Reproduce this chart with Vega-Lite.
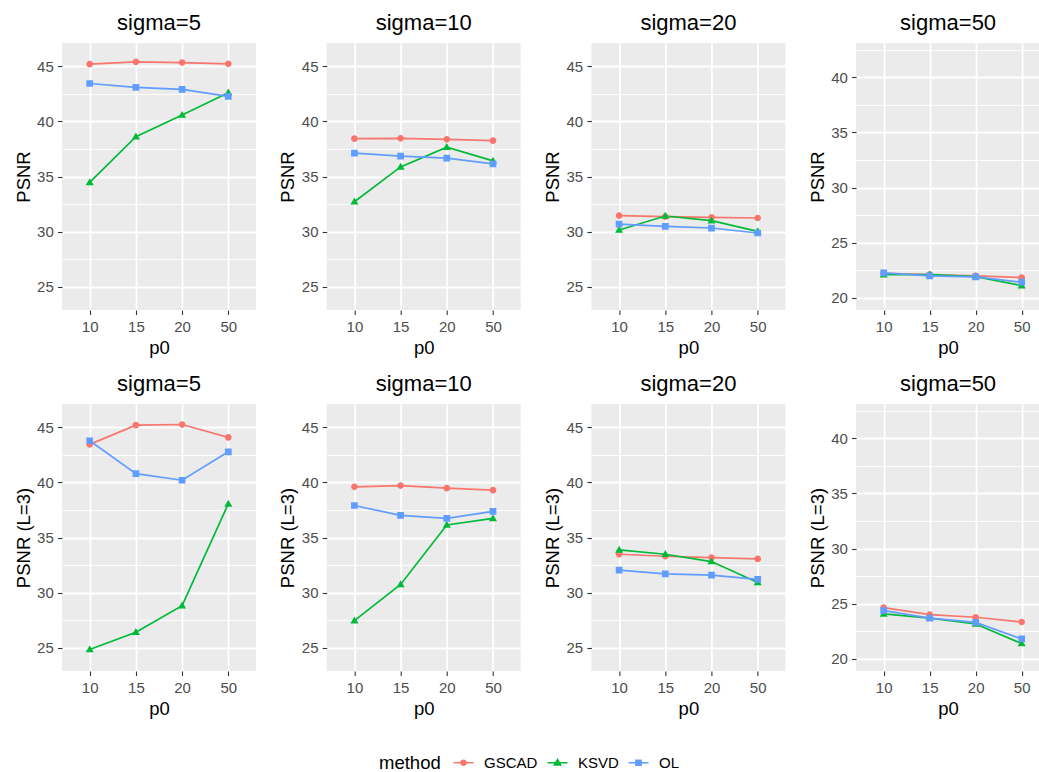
{
  "$schema": "https://vega.github.io/schema/vega-lite/v6.json",
  "background": "white",
  "padding": {"left": 14, "top": 12, "right": 0, "bottom": 0},
  "bounds": "flush",
  "columns": 4,
  "spacing": {"row": 94, "column": 70.7},
  "config": {
    "font": "Liberation Sans",
    "view": {"stroke": null, "fill": "#EBEBEB"},
    "title": {"fontSize": 22, "fontWeight": "normal", "color": "#000000", "offset": 8, "anchor": "middle"},
    "axis": {
      "domain": false,
      "grid": true,
      "gridColor": "#FFFFFF",
      "gridWidth": 1.8,
      "tickColor": "#333333",
      "tickSize": 4.5,
      "tickWidth": 1.1,
      "labelColor": "#4D4D4D",
      "labelFontSize": 15,
      "titleFontSize": 18.5,
      "titleFontWeight": "normal",
      "titleColor": "#000000"
    },
    "axisX": {"labelPadding": 5, "titlePadding": 3.5, "labelAngle": 0},
    "axisY": {"labelPadding": 4.2, "titlePadding": 3.4},
    "legend": {
      "titleFontSize": 18.5,
      "titleFontWeight": "normal",
      "titleColor": "#000000",
      "labelFontSize": 15,
      "labelColor": "#000000"
    }
  },
  "data": {
    "values": [
      {"metric":"PSNR","sigma":5,"method":"GSCAD","p0":"10","psnr":45.18},
      {"metric":"PSNR","sigma":5,"method":"GSCAD","p0":"15","psnr":45.39},
      {"metric":"PSNR","sigma":5,"method":"GSCAD","p0":"20","psnr":45.33},
      {"metric":"PSNR","sigma":5,"method":"GSCAD","p0":"50","psnr":45.21},
      {"metric":"PSNR","sigma":5,"method":"KSVD","p0":"10","psnr":34.46},
      {"metric":"PSNR","sigma":5,"method":"KSVD","p0":"15","psnr":38.61},
      {"metric":"PSNR","sigma":5,"method":"KSVD","p0":"20","psnr":40.57},
      {"metric":"PSNR","sigma":5,"method":"KSVD","p0":"50","psnr":42.59},
      {"metric":"PSNR","sigma":5,"method":"OL","p0":"10","psnr":43.43},
      {"metric":"PSNR","sigma":5,"method":"OL","p0":"15","psnr":43.07},
      {"metric":"PSNR","sigma":5,"method":"OL","p0":"20","psnr":42.89},
      {"metric":"PSNR","sigma":5,"method":"OL","p0":"50","psnr":42.26},
      {"metric":"PSNR","sigma":10,"method":"GSCAD","p0":"10","psnr":38.43},
      {"metric":"PSNR","sigma":10,"method":"GSCAD","p0":"15","psnr":38.46},
      {"metric":"PSNR","sigma":10,"method":"GSCAD","p0":"20","psnr":38.37},
      {"metric":"PSNR","sigma":10,"method":"GSCAD","p0":"50","psnr":38.25},
      {"metric":"PSNR","sigma":10,"method":"KSVD","p0":"10","psnr":32.71},
      {"metric":"PSNR","sigma":10,"method":"KSVD","p0":"15","psnr":35.87},
      {"metric":"PSNR","sigma":10,"method":"KSVD","p0":"20","psnr":37.65},
      {"metric":"PSNR","sigma":10,"method":"KSVD","p0":"50","psnr":36.42},
      {"metric":"PSNR","sigma":10,"method":"OL","p0":"10","psnr":37.11},
      {"metric":"PSNR","sigma":10,"method":"OL","p0":"15","psnr":36.84},
      {"metric":"PSNR","sigma":10,"method":"OL","p0":"20","psnr":36.66},
      {"metric":"PSNR","sigma":10,"method":"OL","p0":"50","psnr":36.14},
      {"metric":"PSNR","sigma":20,"method":"GSCAD","p0":"10","psnr":31.45},
      {"metric":"PSNR","sigma":20,"method":"GSCAD","p0":"15","psnr":31.36},
      {"metric":"PSNR","sigma":20,"method":"GSCAD","p0":"20","psnr":31.30},
      {"metric":"PSNR","sigma":20,"method":"GSCAD","p0":"50","psnr":31.24},
      {"metric":"PSNR","sigma":20,"method":"KSVD","p0":"10","psnr":30.15},
      {"metric":"PSNR","sigma":20,"method":"KSVD","p0":"15","psnr":31.42},
      {"metric":"PSNR","sigma":20,"method":"KSVD","p0":"20","psnr":31.00},
      {"metric":"PSNR","sigma":20,"method":"KSVD","p0":"50","psnr":30.03},
      {"metric":"PSNR","sigma":20,"method":"OL","p0":"10","psnr":30.69},
      {"metric":"PSNR","sigma":20,"method":"OL","p0":"15","psnr":30.48},
      {"metric":"PSNR","sigma":20,"method":"OL","p0":"20","psnr":30.33},
      {"metric":"PSNR","sigma":20,"method":"OL","p0":"50","psnr":29.88},
      {"metric":"PSNR","sigma":50,"method":"GSCAD","p0":"10","psnr":22.23},
      {"metric":"PSNR","sigma":50,"method":"GSCAD","p0":"15","psnr":22.11},
      {"metric":"PSNR","sigma":50,"method":"GSCAD","p0":"20","psnr":21.99},
      {"metric":"PSNR","sigma":50,"method":"GSCAD","p0":"50","psnr":21.84},
      {"metric":"PSNR","sigma":50,"method":"KSVD","p0":"10","psnr":22.11},
      {"metric":"PSNR","sigma":50,"method":"KSVD","p0":"15","psnr":22.11},
      {"metric":"PSNR","sigma":50,"method":"KSVD","p0":"20","psnr":21.93},
      {"metric":"PSNR","sigma":50,"method":"KSVD","p0":"50","psnr":21.11},
      {"metric":"PSNR","sigma":50,"method":"OL","p0":"10","psnr":22.26},
      {"metric":"PSNR","sigma":50,"method":"OL","p0":"15","psnr":21.99},
      {"metric":"PSNR","sigma":50,"method":"OL","p0":"20","psnr":21.90},
      {"metric":"PSNR","sigma":50,"method":"OL","p0":"50","psnr":21.42},
      {"metric":"PSNR (L=3)","sigma":5,"method":"GSCAD","p0":"10","psnr":43.44},
      {"metric":"PSNR (L=3)","sigma":5,"method":"GSCAD","p0":"15","psnr":45.18},
      {"metric":"PSNR (L=3)","sigma":5,"method":"GSCAD","p0":"20","psnr":45.24},
      {"metric":"PSNR (L=3)","sigma":5,"method":"GSCAD","p0":"50","psnr":44.07},
      {"metric":"PSNR (L=3)","sigma":5,"method":"KSVD","p0":"10","psnr":24.85},
      {"metric":"PSNR (L=3)","sigma":5,"method":"KSVD","p0":"15","psnr":26.41},
      {"metric":"PSNR (L=3)","sigma":5,"method":"KSVD","p0":"20","psnr":28.82},
      {"metric":"PSNR (L=3)","sigma":5,"method":"KSVD","p0":"50","psnr":38.05},
      {"metric":"PSNR (L=3)","sigma":5,"method":"OL","p0":"10","psnr":43.77},
      {"metric":"PSNR (L=3)","sigma":5,"method":"OL","p0":"15","psnr":40.79},
      {"metric":"PSNR (L=3)","sigma":5,"method":"OL","p0":"20","psnr":40.19},
      {"metric":"PSNR (L=3)","sigma":5,"method":"OL","p0":"50","psnr":42.77},
      {"metric":"PSNR (L=3)","sigma":10,"method":"GSCAD","p0":"10","psnr":39.59},
      {"metric":"PSNR (L=3)","sigma":10,"method":"GSCAD","p0":"15","psnr":39.71},
      {"metric":"PSNR (L=3)","sigma":10,"method":"GSCAD","p0":"20","psnr":39.47},
      {"metric":"PSNR (L=3)","sigma":10,"method":"GSCAD","p0":"50","psnr":39.29},
      {"metric":"PSNR (L=3)","sigma":10,"method":"KSVD","p0":"10","psnr":27.47},
      {"metric":"PSNR (L=3)","sigma":10,"method":"KSVD","p0":"15","psnr":30.74},
      {"metric":"PSNR (L=3)","sigma":10,"method":"KSVD","p0":"20","psnr":36.13},
      {"metric":"PSNR (L=3)","sigma":10,"method":"KSVD","p0":"50","psnr":36.73},
      {"metric":"PSNR (L=3)","sigma":10,"method":"OL","p0":"10","psnr":37.90},
      {"metric":"PSNR (L=3)","sigma":10,"method":"OL","p0":"15","psnr":37.00},
      {"metric":"PSNR (L=3)","sigma":10,"method":"OL","p0":"20","psnr":36.73},
      {"metric":"PSNR (L=3)","sigma":10,"method":"OL","p0":"50","psnr":37.36},
      {"metric":"PSNR (L=3)","sigma":20,"method":"GSCAD","p0":"10","psnr":33.48},
      {"metric":"PSNR (L=3)","sigma":20,"method":"GSCAD","p0":"15","psnr":33.30},
      {"metric":"PSNR (L=3)","sigma":20,"method":"GSCAD","p0":"20","psnr":33.18},
      {"metric":"PSNR (L=3)","sigma":20,"method":"GSCAD","p0":"50","psnr":33.06},
      {"metric":"PSNR (L=3)","sigma":20,"method":"KSVD","p0":"10","psnr":33.87},
      {"metric":"PSNR (L=3)","sigma":20,"method":"KSVD","p0":"15","psnr":33.48},
      {"metric":"PSNR (L=3)","sigma":20,"method":"KSVD","p0":"20","psnr":32.82},
      {"metric":"PSNR (L=3)","sigma":20,"method":"KSVD","p0":"50","psnr":30.92},
      {"metric":"PSNR (L=3)","sigma":20,"method":"OL","p0":"10","psnr":32.04},
      {"metric":"PSNR (L=3)","sigma":20,"method":"OL","p0":"15","psnr":31.71},
      {"metric":"PSNR (L=3)","sigma":20,"method":"OL","p0":"20","psnr":31.59},
      {"metric":"PSNR (L=3)","sigma":20,"method":"OL","p0":"50","psnr":31.20},
      {"metric":"PSNR (L=3)","sigma":50,"method":"GSCAD","p0":"10","psnr":24.64},
      {"metric":"PSNR (L=3)","sigma":50,"method":"GSCAD","p0":"15","psnr":24.01},
      {"metric":"PSNR (L=3)","sigma":50,"method":"GSCAD","p0":"20","psnr":23.77},
      {"metric":"PSNR (L=3)","sigma":50,"method":"GSCAD","p0":"50","psnr":23.34},
      {"metric":"PSNR (L=3)","sigma":50,"method":"KSVD","p0":"10","psnr":24.07},
      {"metric":"PSNR (L=3)","sigma":50,"method":"KSVD","p0":"15","psnr":23.70},
      {"metric":"PSNR (L=3)","sigma":50,"method":"KSVD","p0":"20","psnr":23.16},
      {"metric":"PSNR (L=3)","sigma":50,"method":"KSVD","p0":"50","psnr":21.39},
      {"metric":"PSNR (L=3)","sigma":50,"method":"OL","p0":"10","psnr":24.37},
      {"metric":"PSNR (L=3)","sigma":50,"method":"OL","p0":"15","psnr":23.70},
      {"metric":"PSNR (L=3)","sigma":50,"method":"OL","p0":"20","psnr":23.31},
      {"metric":"PSNR (L=3)","sigma":50,"method":"OL","p0":"50","psnr":21.81}
    ]
  },
  "concat": [
    {
      "title": "sigma=5", "width": 194, "height": 267,
      "transform": [{"filter": "datum.metric === 'PSNR' && datum.sigma === 5"}],
      "encoding": {
        "x": {"field": "p0", "type": "ordinal", "sort": ["10","15","20","50"], "scale": {"type": "point", "padding": 0.6}, "axis": {"title": "p0", "grid": true}},
        "y": {"field": "psnr", "type": "quantitative", "scale": {"domain": [22.9, 47.1], "nice": false, "zero": false},
              "axis": {"title": "PSNR", "values": [25,27.5,30,32.5,35,37.5,40,42.5,45], "labelExpr": "datum.value % 5 === 0 ? format(datum.value, 'd') : ''",
                       "tickOpacity": {"condition": {"test": "datum.value % 5 !== 0", "value": 0}, "value": 1},
                       "gridWidth": {"condition": {"test": "datum.value % 5 !== 0", "value": 0.9}, "value": 1.8}}},
        "color": {"field": "method", "type": "nominal", "scale": {"domain": ["GSCAD","KSVD","OL"], "range": ["#F8766D","#00BA38","#619CFF"]},
                  "legend": {"title": "method", "orient": "none", "legendX": 317, "legendY": 712, "direction": "horizontal", "titleOrient": "left", "titlePadding": 15, "labelOffset": 13, "columnPadding": 6, "symbolStrokeWidth": 1.7}}
      },
      "layer": [
        {"mark": {"type": "line", "strokeWidth": 1.7}},
        {"mark": {"type": "point", "filled": true, "size": 180, "opacity": 1},
         "encoding": {
           "shape": {"field": "method", "type": "nominal", "scale": {"domain": ["GSCAD","KSVD","OL"], "range": ["M-2,0L2,0M-0.5,0A0.5,0.5,0,1,1,0.5,0A0.5,0.5,0,1,1,-0.5,0Z", "M-2,0L2,0M0,-0.62L0.6,0.42L-0.6,0.42Z", "M-2,0L2,0M-0.5,-0.5L0.5,-0.5L0.5,0.5L-0.5,0.5Z"]},
                     "legend": {"title": "method", "orient": "none", "legendX": 317, "legendY": 712, "direction": "horizontal", "titleOrient": "left", "titlePadding": 15, "labelOffset": 13, "columnPadding": 6, "symbolStrokeWidth": 1.7}}
         }}
      ]
    },
    {
      "title": "sigma=10", "width": 194, "height": 267,
      "transform": [{"filter": "datum.metric === 'PSNR' && datum.sigma === 10"}],
      "encoding": {
        "x": {"field": "p0", "type": "ordinal", "sort": ["10","15","20","50"], "scale": {"type": "point", "padding": 0.6}, "axis": {"title": "p0", "grid": true}},
        "y": {"field": "psnr", "type": "quantitative", "scale": {"domain": [22.9, 47.1], "nice": false, "zero": false},
              "axis": {"title": "PSNR", "values": [25,27.5,30,32.5,35,37.5,40,42.5,45], "labelExpr": "datum.value % 5 === 0 ? format(datum.value, 'd') : ''",
                       "tickOpacity": {"condition": {"test": "datum.value % 5 !== 0", "value": 0}, "value": 1},
                       "gridWidth": {"condition": {"test": "datum.value % 5 !== 0", "value": 0.9}, "value": 1.8}}},
        "color": {"field": "method", "type": "nominal"}
      },
      "layer": [
        {"mark": {"type": "line", "strokeWidth": 1.7}},
        {"mark": {"type": "point", "filled": true, "size": 180, "opacity": 1}, "encoding": {"shape": {"field": "method", "type": "nominal"}}}
      ]
    },
    {
      "title": "sigma=20", "width": 194, "height": 267,
      "transform": [{"filter": "datum.metric === 'PSNR' && datum.sigma === 20"}],
      "encoding": {
        "x": {"field": "p0", "type": "ordinal", "sort": ["10","15","20","50"], "scale": {"type": "point", "padding": 0.6}, "axis": {"title": "p0", "grid": true}},
        "y": {"field": "psnr", "type": "quantitative", "scale": {"domain": [22.9, 47.1], "nice": false, "zero": false},
              "axis": {"title": "PSNR", "values": [25,27.5,30,32.5,35,37.5,40,42.5,45], "labelExpr": "datum.value % 5 === 0 ? format(datum.value, 'd') : ''",
                       "tickOpacity": {"condition": {"test": "datum.value % 5 !== 0", "value": 0}, "value": 1},
                       "gridWidth": {"condition": {"test": "datum.value % 5 !== 0", "value": 0.9}, "value": 1.8}}},
        "color": {"field": "method", "type": "nominal"}
      },
      "layer": [
        {"mark": {"type": "line", "strokeWidth": 1.7}},
        {"mark": {"type": "point", "filled": true, "size": 180, "opacity": 1}, "encoding": {"shape": {"field": "method", "type": "nominal"}}}
      ]
    },
    {
      "title": "sigma=50", "width": 184, "height": 267,
      "transform": [{"filter": "datum.metric === 'PSNR' && datum.sigma === 50"}],
      "encoding": {
        "x": {"field": "p0", "type": "ordinal", "sort": ["10","15","20","50"], "scale": {"type": "point", "padding": 0.5, "align": 0.6}, "axis": {"title": "p0", "grid": true}},
        "y": {"field": "psnr", "type": "quantitative", "scale": {"domain": [18.9, 43.1], "nice": false, "zero": false},
              "axis": {"title": "PSNR", "values": [20,22.5,25,27.5,30,32.5,35,37.5,40,42.5], "labelExpr": "datum.value % 5 === 0 ? format(datum.value, 'd') : ''",
                       "tickOpacity": {"condition": {"test": "datum.value % 5 !== 0", "value": 0}, "value": 1},
                       "gridWidth": {"condition": {"test": "datum.value % 5 !== 0", "value": 0.9}, "value": 1.8}}},
        "color": {"field": "method", "type": "nominal"}
      },
      "layer": [
        {"mark": {"type": "line", "strokeWidth": 1.7}},
        {"mark": {"type": "point", "filled": true, "size": 180, "opacity": 1}, "encoding": {"shape": {"field": "method", "type": "nominal"}}}
      ]
    },
    {
      "title": "sigma=5", "width": 194, "height": 267,
      "transform": [{"filter": "datum.metric === 'PSNR (L=3)' && datum.sigma === 5"}],
      "encoding": {
        "x": {"field": "p0", "type": "ordinal", "sort": ["10","15","20","50"], "scale": {"type": "point", "padding": 0.6}, "axis": {"title": "p0", "grid": true}},
        "y": {"field": "psnr", "type": "quantitative", "scale": {"domain": [22.9, 47.1], "nice": false, "zero": false},
              "axis": {"title": "PSNR (L=3)", "values": [25,27.5,30,32.5,35,37.5,40,42.5,45], "labelExpr": "datum.value % 5 === 0 ? format(datum.value, 'd') : ''",
                       "tickOpacity": {"condition": {"test": "datum.value % 5 !== 0", "value": 0}, "value": 1},
                       "gridWidth": {"condition": {"test": "datum.value % 5 !== 0", "value": 0.9}, "value": 1.8}}},
        "color": {"field": "method", "type": "nominal"}
      },
      "layer": [
        {"mark": {"type": "line", "strokeWidth": 1.7}},
        {"mark": {"type": "point", "filled": true, "size": 180, "opacity": 1}, "encoding": {"shape": {"field": "method", "type": "nominal"}}}
      ]
    },
    {
      "title": "sigma=10", "width": 194, "height": 267,
      "transform": [{"filter": "datum.metric === 'PSNR (L=3)' && datum.sigma === 10"}],
      "encoding": {
        "x": {"field": "p0", "type": "ordinal", "sort": ["10","15","20","50"], "scale": {"type": "point", "padding": 0.6}, "axis": {"title": "p0", "grid": true}},
        "y": {"field": "psnr", "type": "quantitative", "scale": {"domain": [22.9, 47.1], "nice": false, "zero": false},
              "axis": {"title": "PSNR (L=3)", "values": [25,27.5,30,32.5,35,37.5,40,42.5,45], "labelExpr": "datum.value % 5 === 0 ? format(datum.value, 'd') : ''",
                       "tickOpacity": {"condition": {"test": "datum.value % 5 !== 0", "value": 0}, "value": 1},
                       "gridWidth": {"condition": {"test": "datum.value % 5 !== 0", "value": 0.9}, "value": 1.8}}},
        "color": {"field": "method", "type": "nominal"}
      },
      "layer": [
        {"mark": {"type": "line", "strokeWidth": 1.7}},
        {"mark": {"type": "point", "filled": true, "size": 180, "opacity": 1}, "encoding": {"shape": {"field": "method", "type": "nominal"}}}
      ]
    },
    {
      "title": "sigma=20", "width": 194, "height": 267,
      "transform": [{"filter": "datum.metric === 'PSNR (L=3)' && datum.sigma === 20"}],
      "encoding": {
        "x": {"field": "p0", "type": "ordinal", "sort": ["10","15","20","50"], "scale": {"type": "point", "padding": 0.6}, "axis": {"title": "p0", "grid": true}},
        "y": {"field": "psnr", "type": "quantitative", "scale": {"domain": [22.9, 47.1], "nice": false, "zero": false},
              "axis": {"title": "PSNR (L=3)", "values": [25,27.5,30,32.5,35,37.5,40,42.5,45], "labelExpr": "datum.value % 5 === 0 ? format(datum.value, 'd') : ''",
                       "tickOpacity": {"condition": {"test": "datum.value % 5 !== 0", "value": 0}, "value": 1},
                       "gridWidth": {"condition": {"test": "datum.value % 5 !== 0", "value": 0.9}, "value": 1.8}}},
        "color": {"field": "method", "type": "nominal"}
      },
      "layer": [
        {"mark": {"type": "line", "strokeWidth": 1.7}},
        {"mark": {"type": "point", "filled": true, "size": 180, "opacity": 1}, "encoding": {"shape": {"field": "method", "type": "nominal"}}}
      ]
    },
    {
      "title": "sigma=50", "width": 184, "height": 267,
      "transform": [{"filter": "datum.metric === 'PSNR (L=3)' && datum.sigma === 50"}],
      "encoding": {
        "x": {"field": "p0", "type": "ordinal", "sort": ["10","15","20","50"], "scale": {"type": "point", "padding": 0.5, "align": 0.6}, "axis": {"title": "p0", "grid": true}},
        "y": {"field": "psnr", "type": "quantitative", "scale": {"domain": [18.9, 43.1], "nice": false, "zero": false},
              "axis": {"title": "PSNR (L=3)", "values": [20,22.5,25,27.5,30,32.5,35,37.5,40,42.5], "labelExpr": "datum.value % 5 === 0 ? format(datum.value, 'd') : ''",
                       "tickOpacity": {"condition": {"test": "datum.value % 5 !== 0", "value": 0}, "value": 1},
                       "gridWidth": {"condition": {"test": "datum.value % 5 !== 0", "value": 0.9}, "value": 1.8}}},
        "color": {"field": "method", "type": "nominal"}
      },
      "layer": [
        {"mark": {"type": "line", "strokeWidth": 1.7}},
        {"mark": {"type": "point", "filled": true, "size": 180, "opacity": 1}, "encoding": {"shape": {"field": "method", "type": "nominal"}}}
      ]
    }
  ]
}
